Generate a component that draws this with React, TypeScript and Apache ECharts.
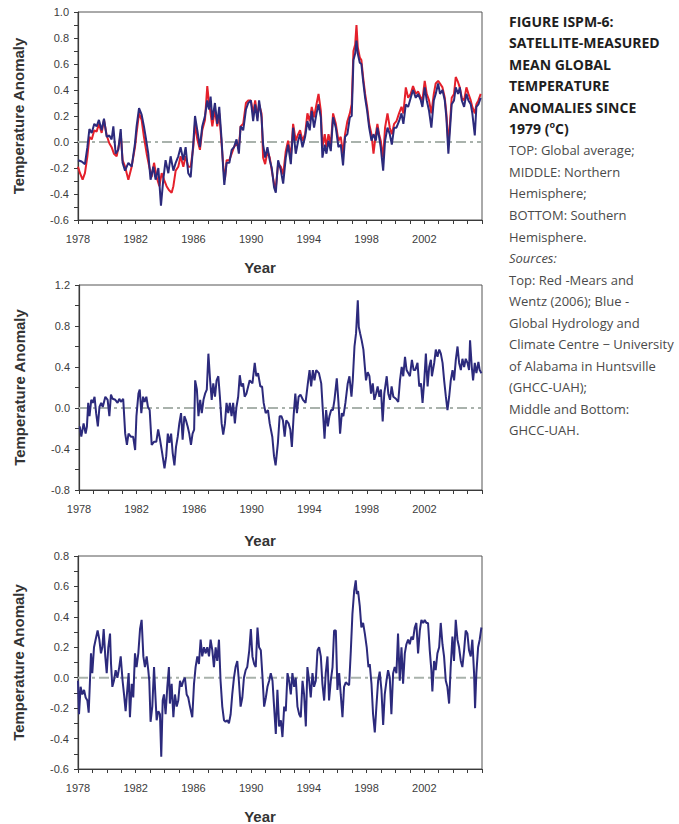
import React, { useEffect, useRef } from "react";
import * as echarts from "echarts";

// ---- Data (year, anomaly °C) ----
const topRss: [number, number][] = [
  [1978.0, -0.19], [1978.14, -0.24], [1978.32, -0.29], [1978.48, -0.24], [1978.65, -0.11], [1978.79, 0.04],
  [1978.95, 0.02], [1979.13, 0.09], [1979.29, 0.08], [1979.45, 0.14], [1979.64, 0.07], [1979.8, 0.17],
  [1979.99, 0.05], [1980.17, -0.01], [1980.33, -0.04], [1980.49, -0.09], [1980.68, -0.11], [1980.86, -0.01],
  [1980.96, 0.07], [1981.09, -0.14], [1981.26, -0.19], [1981.49, -0.29], [1981.72, -0.19], [1981.95, -0.04],
  [1982.06, 0.07], [1982.23, 0.22], [1982.41, 0.17], [1982.57, 0.04], [1982.76, -0.09], [1982.94, -0.19],
  [1983.1, -0.27], [1983.27, -0.16], [1983.45, -0.27], [1983.64, -0.34], [1983.8, -0.24], [1983.96, -0.29],
  [1984.14, -0.34], [1984.3, -0.37], [1984.49, -0.39], [1984.61, -0.34], [1984.77, -0.22], [1984.95, -0.19],
  [1985.11, -0.11], [1985.3, -0.19], [1985.46, -0.11], [1985.64, -0.19], [1985.81, -0.19], [1985.99, -0.04],
  [1986.11, 0.14], [1986.27, 0.02], [1986.45, -0.06], [1986.61, 0.09], [1986.8, 0.17], [1986.96, 0.43],
  [1987.08, 0.3], [1987.19, 0.22], [1987.31, 0.12], [1987.49, 0.25], [1987.65, 0.12], [1987.79, 0.22],
  [1987.95, -0.01], [1988.07, -0.19], [1988.18, -0.29], [1988.3, -0.14], [1988.49, -0.14], [1988.65, -0.09],
  [1988.81, -0.04], [1988.99, -0.01], [1989.15, -0.04], [1989.27, 0.12], [1989.45, 0.14], [1989.64, 0.3],
  [1989.8, 0.32], [1989.98, 0.32], [1990.14, 0.22], [1990.28, 0.32], [1990.44, 0.19], [1990.55, 0.29],
  [1990.72, 0.22], [1990.83, -0.12], [1990.97, -0.17], [1991.13, -0.07], [1991.29, -0.12], [1991.43, -0.22],
  [1991.59, -0.32], [1991.71, -0.35], [1991.87, -0.17], [1992.06, -0.19], [1992.22, -0.25], [1992.4, -0.07],
  [1992.56, 0.01], [1992.75, -0.12], [1992.91, 0.14], [1993.09, 0.01], [1993.26, 0.06], [1993.39, 0.09],
  [1993.56, 0.01], [1993.74, 0.06], [1993.9, 0.22], [1994.06, 0.16], [1994.2, 0.27], [1994.36, 0.19],
  [1994.53, 0.29], [1994.67, 0.37], [1994.83, 0.24], [1994.94, -0.04], [1995.1, 0.06], [1995.22, -0.04],
  [1995.36, 0.06], [1995.52, -0.02], [1995.68, 0.22], [1995.87, 0.14], [1996.05, 0.01], [1996.21, 0.04],
  [1996.37, -0.09], [1996.51, 0.06], [1996.67, 0.16], [1996.84, 0.22], [1996.97, 0.29], [1997.09, 0.7],
  [1997.21, 0.75], [1997.3, 0.9], [1997.39, 0.73], [1997.53, 0.65], [1997.64, 0.63], [1997.76, 0.5],
  [1997.9, 0.37], [1998.04, 0.27], [1998.18, 0.14], [1998.34, 0.06], [1998.48, -0.09], [1998.64, 0.06],
  [1998.75, 0.14], [1998.87, 0.06], [1998.98, 0.01], [1999.15, -0.12], [1999.28, 0.11], [1999.45, 0.22],
  [1999.61, 0.11], [1999.75, 0.06], [1999.91, 0.14], [2000.07, 0.16], [2000.25, 0.22], [2000.42, 0.27],
  [2000.55, 0.22], [2000.72, 0.42], [2000.88, 0.34], [2001.06, 0.37], [2001.22, 0.43], [2001.41, 0.37],
  [2001.57, 0.39], [2001.76, 0.34], [2001.87, 0.32], [2002.03, 0.47], [2002.17, 0.37], [2002.33, 0.32],
  [2002.49, 0.22], [2002.66, 0.37], [2002.79, 0.45], [2002.96, 0.47], [2003.09, 0.45], [2003.26, 0.42],
  [2003.42, 0.34], [2003.53, 0.22], [2003.67, -0.02], [2003.79, 0.16], [2003.9, 0.34], [2004.06, 0.37],
  [2004.18, 0.5], [2004.34, 0.46], [2004.46, 0.42], [2004.6, 0.34], [2004.76, 0.32], [2004.92, 0.42],
  [2005.06, 0.37], [2005.22, 0.32], [2005.33, 0.27], [2005.5, 0.22], [2005.61, 0.29], [2005.75, 0.32],
  [2005.91, 0.37],
];

const topUah: [number, number][] = [
  [1978.0, -0.14], [1978.25, -0.15], [1978.48, -0.17], [1978.65, -0.04], [1978.79, 0.1], [1978.95, 0.07],
  [1979.13, 0.14], [1979.29, 0.12], [1979.45, 0.17], [1979.64, 0.09], [1979.8, 0.18], [1979.99, 0.04],
  [1980.17, 0.05], [1980.33, 0.02], [1980.45, 0.12], [1980.61, -0.09], [1980.79, -0.06], [1980.96, 0.1],
  [1981.09, -0.16], [1981.26, -0.22], [1981.49, -0.16], [1981.72, -0.19], [1981.95, -0.01], [1982.06, 0.12],
  [1982.23, 0.26], [1982.41, 0.21], [1982.57, 0.12], [1982.69, 0.04], [1982.87, -0.09], [1983.03, -0.29],
  [1983.22, -0.19], [1983.38, -0.29], [1983.57, -0.2], [1983.75, -0.49], [1983.91, -0.29], [1984.07, -0.14],
  [1984.26, -0.24], [1984.42, -0.11], [1984.61, -0.22], [1984.77, -0.16], [1984.95, -0.11], [1985.11, -0.04],
  [1985.3, -0.14], [1985.46, -0.04], [1985.64, -0.24], [1985.81, -0.27], [1985.99, -0.01], [1986.11, 0.2],
  [1986.27, 0.09], [1986.45, -0.04], [1986.61, 0.12], [1986.8, 0.2], [1986.96, 0.32], [1987.08, 0.25],
  [1987.19, 0.35], [1987.31, 0.17], [1987.49, 0.3], [1987.65, 0.14], [1987.79, 0.27], [1987.95, 0.02],
  [1988.07, -0.22], [1988.14, -0.33], [1988.3, -0.16], [1988.49, -0.16], [1988.65, -0.06], [1988.81, -0.04],
  [1988.99, 0.02], [1989.15, -0.09], [1989.27, 0.12], [1989.45, 0.09], [1989.64, 0.25], [1989.8, 0.3],
  [1989.98, 0.32], [1990.14, 0.16], [1990.28, 0.29], [1990.44, 0.16], [1990.55, 0.32], [1990.72, 0.19],
  [1990.83, -0.02], [1990.97, -0.12], [1991.13, -0.04], [1991.29, -0.14], [1991.43, -0.2], [1991.59, -0.35],
  [1991.71, -0.39], [1991.87, -0.14], [1992.06, -0.22], [1992.22, -0.32], [1992.4, -0.12], [1992.56, -0.02],
  [1992.75, -0.17], [1992.91, 0.11], [1993.09, -0.09], [1993.26, 0.01], [1993.39, 0.06], [1993.56, -0.04],
  [1993.74, 0.04], [1993.9, 0.16], [1994.06, 0.09], [1994.2, 0.24], [1994.36, 0.11], [1994.53, 0.22],
  [1994.67, 0.29], [1994.83, 0.19], [1994.94, -0.12], [1995.1, -0.02], [1995.22, -0.09], [1995.36, 0.01],
  [1995.52, -0.07], [1995.68, 0.19], [1995.87, 0.11], [1996.05, -0.04], [1996.21, -0.02], [1996.37, -0.18],
  [1996.51, 0.04], [1996.67, 0.06], [1996.84, 0.19], [1996.97, 0.2], [1997.09, 0.63], [1997.21, 0.68],
  [1997.3, 0.78], [1997.39, 0.68], [1997.53, 0.61], [1997.64, 0.6], [1997.76, 0.47], [1997.9, 0.34],
  [1998.04, 0.24], [1998.18, 0.11], [1998.34, 0.01], [1998.48, 0.06], [1998.64, 0.01], [1998.75, 0.11],
  [1998.87, 0.04], [1998.98, -0.04], [1999.15, -0.22], [1999.28, 0.01], [1999.45, 0.11], [1999.61, 0.06],
  [1999.75, -0.02], [1999.91, 0.11], [2000.07, 0.11], [2000.25, 0.16], [2000.42, 0.22], [2000.55, 0.14],
  [2000.72, 0.29], [2000.88, 0.27], [2001.06, 0.34], [2001.22, 0.4], [2001.41, 0.34], [2001.57, 0.37],
  [2001.76, 0.32], [2001.87, 0.27], [2002.03, 0.42], [2002.17, 0.32], [2002.33, 0.24], [2002.49, 0.11],
  [2002.66, 0.32], [2002.79, 0.37], [2002.96, 0.45], [2003.09, 0.37], [2003.26, 0.4], [2003.42, 0.32],
  [2003.53, 0.19], [2003.67, -0.09], [2003.79, 0.11], [2003.9, 0.29], [2004.06, 0.32], [2004.18, 0.42],
  [2004.34, 0.37], [2004.46, 0.42], [2004.6, 0.32], [2004.76, 0.27], [2004.92, 0.37], [2005.06, 0.32],
  [2005.22, 0.29], [2005.33, 0.22], [2005.5, 0.05], [2005.61, 0.27], [2005.75, 0.29], [2005.91, 0.34],
];

const nhUah: [number, number][] = [
  [1978.05, -0.18], [1978.16, -0.28], [1978.32, -0.15], [1978.46, -0.25], [1978.55, -0.18], [1978.64, 0.05],
  [1978.73, -0.08], [1978.85, 0.08], [1978.96, 0.05], [1979.08, 0.11], [1979.19, -0.05], [1979.31, -0.18],
  [1979.42, 0.01], [1979.54, 0.05], [1979.65, 0.01], [1979.83, 0.11], [1979.99, 0.08], [1980.11, -0.08],
  [1980.22, 0.13], [1980.34, 0.09], [1980.52, 0.08], [1980.68, 0.05], [1980.8, 0.09], [1980.91, 0.06],
  [1981.07, 0.09], [1981.21, -0.25], [1981.33, -0.36], [1981.44, -0.25], [1981.6, -0.28], [1981.76, -0.28],
  [1981.9, -0.41], [1981.99, -0.08], [1982.13, 0.14], [1982.22, 0.18], [1982.33, -0.05], [1982.45, 0.11],
  [1982.56, 0.06], [1982.68, 0.11], [1982.79, 0.01], [1982.91, -0.02], [1983.05, -0.36], [1983.21, -0.33],
  [1983.37, -0.33], [1983.5, -0.21], [1983.62, -0.3], [1983.78, -0.44], [1983.94, -0.59], [1984.06, -0.47],
  [1984.17, -0.25], [1984.28, -0.34], [1984.4, -0.25], [1984.51, -0.44], [1984.63, -0.56], [1984.74, -0.38],
  [1984.86, -0.28], [1984.97, -0.15], [1985.09, -0.05], [1985.2, -0.31], [1985.32, -0.08], [1985.43, -0.12],
  [1985.55, -0.18], [1985.66, -0.25], [1985.78, -0.36], [1985.89, -0.25], [1986.0, -0.21], [1986.07, 0.27],
  [1986.19, 0.18], [1986.3, -0.08], [1986.42, 0.08], [1986.53, -0.05], [1986.65, 0.08], [1986.76, 0.14],
  [1986.88, 0.18], [1986.99, 0.53], [1987.11, 0.27], [1987.22, 0.08], [1987.33, 0.24], [1987.45, 0.11],
  [1987.56, 0.27], [1987.68, 0.31], [1987.79, 0.11], [1987.91, -0.15], [1988.02, -0.26], [1988.14, -0.15],
  [1988.25, 0.05], [1988.37, -0.05], [1988.48, 0.05], [1988.6, -0.08], [1988.71, 0.05], [1988.83, -0.15],
  [1988.94, 0.01], [1989.06, 0.11], [1989.17, 0.32], [1989.28, 0.21], [1989.4, 0.24], [1989.51, 0.11],
  [1989.63, 0.14], [1989.86, 0.27], [1990.05, 0.24], [1990.21, 0.44], [1990.32, 0.31], [1990.44, 0.34],
  [1990.6, 0.21], [1990.72, 0.21], [1990.83, 0.05], [1990.97, -0.05], [1991.13, -0.02], [1991.25, -0.15],
  [1991.43, -0.28], [1991.55, -0.47], [1991.66, -0.56], [1991.82, -0.34], [1991.94, -0.08], [1992.06, -0.08],
  [1992.17, -0.12], [1992.29, -0.28], [1992.4, -0.12], [1992.56, -0.15], [1992.68, -0.21], [1992.79, -0.38],
  [1992.91, -0.08], [1993.03, 0.14], [1993.14, -0.05], [1993.26, 0.11], [1993.39, 0.13], [1993.56, 0.08],
  [1993.74, 0.05], [1993.9, 0.24], [1994.02, 0.37], [1994.13, 0.21], [1994.25, 0.37], [1994.36, 0.27],
  [1994.48, 0.37], [1994.67, 0.34], [1994.83, 0.24], [1994.94, -0.02], [1995.06, -0.3], [1995.17, -0.02],
  [1995.29, -0.18], [1995.4, -0.08], [1995.52, -0.02], [1995.64, -0.02], [1995.75, 0.08], [1995.91, 0.29],
  [1996.03, 0.05], [1996.14, -0.25], [1996.26, -0.05], [1996.37, -0.08], [1996.51, 0.05], [1996.67, 0.24],
  [1996.79, 0.31], [1996.93, 0.11], [1997.02, 0.27], [1997.14, 0.6], [1997.25, 0.73], [1997.37, 1.05],
  [1997.44, 0.79], [1997.53, 0.73], [1997.64, 0.66], [1997.76, 0.57], [1997.88, 0.37], [1997.94, 0.27],
  [1998.06, 0.35], [1998.18, 0.31], [1998.29, 0.14], [1998.41, 0.24], [1998.52, 0.08], [1998.64, 0.14],
  [1998.75, 0.21], [1998.87, 0.11], [1998.98, 0.18], [1999.1, -0.13], [1999.21, 0.14], [1999.38, 0.31],
  [1999.49, 0.14], [1999.61, 0.08], [1999.72, 0.21], [1999.84, 0.11], [2000.02, 0.09], [2000.18, 0.06],
  [2000.3, 0.27], [2000.42, 0.4], [2000.53, 0.31], [2000.65, 0.5], [2000.76, 0.37], [2000.88, 0.34],
  [2000.99, 0.31], [2001.13, 0.47], [2001.25, 0.37], [2001.36, 0.37], [2001.52, 0.44], [2001.64, 0.21],
  [2001.76, 0.24], [2001.87, 0.05], [2001.99, 0.27], [2002.1, 0.53], [2002.22, 0.21], [2002.33, 0.4],
  [2002.45, 0.47], [2002.52, 0.31], [2002.68, 0.44], [2002.79, 0.57], [2002.91, 0.5], [2003.03, 0.57],
  [2003.14, 0.53], [2003.26, 0.44], [2003.37, 0.27], [2003.49, 0.11], [2003.6, -0.02], [2003.72, 0.11],
  [2003.83, 0.27], [2003.95, 0.37], [2004.06, 0.27], [2004.18, 0.47], [2004.3, 0.6], [2004.41, 0.44],
  [2004.53, 0.37], [2004.64, 0.48], [2004.76, 0.4], [2004.87, 0.48], [2004.99, 0.44], [2005.1, 0.37],
  [2005.17, 0.66], [2005.29, 0.4], [2005.38, 0.27], [2005.5, 0.44], [2005.61, 0.34], [2005.75, 0.45],
  [2005.84, 0.37], [2005.96, 0.34],
];

const shUah: [number, number][] = [
  [1978.0, -0.02], [1978.07, -0.24], [1978.18, -0.06], [1978.3, -0.11], [1978.42, -0.08], [1978.53, -0.13],
  [1978.65, -0.15], [1978.74, -0.23], [1978.83, -0.02], [1978.9, 0.16], [1978.99, 0.03], [1979.11, 0.2],
  [1979.22, 0.25], [1979.36, 0.31], [1979.48, 0.25], [1979.59, 0.16], [1979.69, 0.2], [1979.78, 0.32],
  [1979.89, 0.14], [1979.99, 0.03], [1980.1, 0.2], [1980.22, 0.29], [1980.29, 0.09], [1980.38, -0.06],
  [1980.49, -0.02], [1980.61, 0.05], [1980.73, 0.0], [1980.86, 0.07], [1980.96, 0.14], [1981.09, -0.02],
  [1981.19, -0.11], [1981.3, -0.22], [1981.39, -0.11], [1981.51, 0.03], [1981.6, -0.26], [1981.72, -0.04],
  [1981.83, -0.13], [1981.95, 0.16], [1982.06, 0.07], [1982.18, 0.16], [1982.3, 0.32], [1982.41, 0.38],
  [1982.53, 0.14], [1982.64, 0.07], [1982.76, 0.14], [1982.87, 0.05], [1982.94, -0.02], [1983.03, -0.29],
  [1983.15, -0.19], [1983.27, 0.07], [1983.36, -0.11], [1983.45, -0.28], [1983.57, -0.22], [1983.68, -0.24],
  [1983.77, -0.52], [1983.87, -0.15], [1983.96, -0.11], [1984.07, -0.24], [1984.19, -0.06], [1984.3, 0.07],
  [1984.37, -0.17], [1984.49, -0.04], [1984.61, -0.26], [1984.72, -0.11], [1984.84, -0.19], [1984.95, -0.15],
  [1985.07, -0.02], [1985.18, -0.06], [1985.3, -0.02], [1985.41, 0.0], [1985.53, -0.11], [1985.64, -0.13],
  [1985.76, -0.19], [1985.92, -0.26], [1986.04, -0.04], [1986.15, 0.07], [1986.27, 0.14], [1986.38, 0.09],
  [1986.5, 0.25], [1986.61, 0.14], [1986.73, 0.2], [1986.85, 0.16], [1986.96, 0.2], [1987.08, 0.14],
  [1987.19, 0.25], [1987.31, 0.18], [1987.42, 0.07], [1987.54, 0.2], [1987.65, 0.11], [1987.77, 0.25],
  [1987.88, -0.02], [1988.0, -0.19], [1988.12, -0.28], [1988.23, -0.29], [1988.35, -0.28], [1988.46, -0.3],
  [1988.58, -0.24], [1988.69, -0.11], [1988.81, 0.0], [1988.92, 0.07], [1989.04, 0.11], [1989.15, -0.02],
  [1989.27, -0.19], [1989.39, -0.13], [1989.5, 0.0], [1989.62, 0.05], [1989.73, 0.07], [1989.87, 0.18],
  [1989.98, 0.32], [1990.09, 0.14], [1990.21, 0.09], [1990.32, 0.07], [1990.44, 0.33], [1990.55, 0.2],
  [1990.67, 0.18], [1990.79, 0.0], [1990.9, -0.19], [1991.02, -0.13], [1991.13, -0.06], [1991.25, -0.02],
  [1991.36, 0.03], [1991.48, -0.02], [1991.59, -0.19], [1991.71, -0.37], [1991.82, -0.08], [1991.94, -0.32],
  [1992.06, -0.28], [1992.17, -0.39], [1992.29, -0.19], [1992.4, -0.22], [1992.52, 0.03], [1992.63, -0.02],
  [1992.75, -0.11], [1992.86, 0.03], [1992.98, -0.06], [1993.09, 0.0], [1993.21, -0.19], [1993.33, -0.24],
  [1993.44, -0.26], [1993.56, -0.02], [1993.67, -0.11], [1993.79, -0.32], [1993.9, 0.07], [1994.02, -0.02],
  [1994.13, -0.13], [1994.25, 0.03], [1994.36, -0.06], [1994.48, -0.02], [1994.6, 0.18], [1994.71, 0.2],
  [1994.83, 0.14], [1994.94, -0.04], [1995.06, -0.15], [1995.17, 0.03], [1995.29, 0.14], [1995.4, -0.15],
  [1995.52, -0.02], [1995.64, 0.07], [1995.75, 0.31], [1995.87, 0.31], [1995.98, -0.08], [1996.1, 0.03],
  [1996.21, -0.11], [1996.33, -0.26], [1996.44, -0.06], [1996.56, -0.03], [1996.67, -0.04], [1996.79, -0.05],
  [1996.91, 0.18], [1997.02, 0.42], [1997.14, 0.57], [1997.25, 0.64], [1997.32, 0.55], [1997.41, 0.57],
  [1997.53, 0.47], [1997.64, 0.33], [1997.76, 0.36], [1997.88, 0.29], [1998.01, 0.2], [1998.13, 0.07],
  [1998.22, 0.09], [1998.34, -0.04], [1998.45, -0.24], [1998.57, -0.36], [1998.68, -0.19], [1998.8, -0.02],
  [1998.91, 0.04], [1999.03, -0.08], [1999.15, -0.31], [1999.26, -0.11], [1999.38, -0.02], [1999.49, 0.05],
  [1999.61, 0.0], [1999.72, -0.24], [1999.84, 0.03], [1999.95, 0.07], [2000.07, 0.03], [2000.18, 0.29],
  [2000.3, -0.02], [2000.42, 0.2], [2000.53, -0.04], [2000.65, 0.16], [2000.76, 0.22], [2000.88, 0.25],
  [2000.99, 0.22], [2001.11, 0.27], [2001.22, 0.25], [2001.34, 0.33], [2001.45, 0.36], [2001.57, 0.16],
  [2001.69, 0.31], [2001.8, 0.38], [2001.92, 0.36], [2002.03, 0.38], [2002.15, 0.36], [2002.26, 0.36],
  [2002.38, 0.18], [2002.49, 0.05], [2002.56, -0.09], [2002.68, 0.11], [2002.79, 0.05], [2002.91, 0.16],
  [2003.03, 0.2], [2003.14, 0.36], [2003.26, 0.22], [2003.37, 0.14], [2003.49, -0.02], [2003.6, -0.06],
  [2003.72, -0.17], [2003.83, 0.07], [2003.95, 0.27], [2004.06, 0.11], [2004.18, 0.38], [2004.3, 0.25],
  [2004.41, 0.2], [2004.53, 0.11], [2004.64, 0.07], [2004.76, 0.18], [2004.87, 0.31], [2004.99, 0.29],
  [2005.1, 0.18], [2005.22, 0.14], [2005.33, 0.25], [2005.45, 0.03], [2005.52, -0.2], [2005.61, 0.03],
  [2005.73, 0.2], [2005.84, 0.25], [2005.96, 0.33],
];

// ---- Axes ----
const xMin = 1978;
const xMax = 2006;
const xLabelStep = 4;
const topRange = [-0.6, 1.0, 0.2];
const midRange = [-0.8, 1.2, 0.4];
const botRange = [-0.6, 0.8, 0.2];
const zeroLevel = 0;

const yName = "Temperature Anomaly";
const xName = "Year";

// ---- Caption ----
const captionBold = [
  "FIGURE ISPM-6:",
  "SATELLITE-MEASURED",
  "MEAN GLOBAL",
  "TEMPERATURE",
  "ANOMALIES SINCE",
];
const captionBody = [
  "TOP: Global average;",
  "MIDDLE: Northern",
  "Hemisphere;",
  "BOTTOM: Southern",
  "Hemisphere.",
  "Sources:",
  "Top: Red -Mears and",
  "Wentz (2006); Blue -",
  "Global Hydrology and",
  "Climate Centre \u2212 University",
  "of Alabama in Huntsville",
  "(GHCC-UAH);",
  "Middle and Bottom:",
  "GHCC-UAH.",
];

const RED = "#e5202b";
const BLUE = "#2c2a7c";
const AXIS = "#3a3a3a";
const LABEL = "#3c3c3c";
const ZERO = "#a9b2ac";
const FONT = "Liberation Sans, Arial, sans-serif";
const CAP_FONT = "Open Sans, sans-serif";

const grids = [
  { left: 78, top: 12, width: 404, height: 208 },
  { left: 79, top: 285, width: 403, height: 205 },
  { left: 78, top: 556, width: 404, height: 213 },
];

function xAxis(gridIndex: number) {
  return {
    type: "value",
    gridIndex,
    min: xMin,
    max: xMax,
    interval: xLabelStep,
    position: "bottom",
    axisLine: { show: true, onZero: false, lineStyle: { color: AXIS, width: 1.2 } },
    axisTick: { show: true, length: 4, lineStyle: { color: AXIS, width: 1 } },
    minorTick: { show: true, splitNumber: 4, length: 4, lineStyle: { color: AXIS, width: 1 } },
    splitLine: { show: false },
    minorSplitLine: { show: false },
    axisLabel: {
      margin: 13,
      color: LABEL,
      fontFamily: FONT,
      fontSize: 11,
      showMaxLabel: false,
      formatter: (v: number) => (v >= xMax ? "" : String(Math.round(v))),
    },
  };
}

function yAxis(gridIndex: number, r: number[]) {
  return {
    type: "value",
    gridIndex,
    min: r[0],
    max: r[1],
    interval: r[2],
    name: yName,
    nameLocation: "middle",
    nameGap: 52,
    nameTextStyle: { color: "#333", fontFamily: FONT, fontSize: 15, fontWeight: "bold" },
    axisLine: { show: true, onZero: false, lineStyle: { color: AXIS, width: 1.2 } },
    axisTick: { show: true, length: 4, lineStyle: { color: AXIS, width: 1 } },
    minorTick: { show: true, splitNumber: 2, length: 4, lineStyle: { color: AXIS, width: 1 } },
    splitLine: { show: false },
    minorSplitLine: { show: false },
    axisLabel: {
      margin: 9,
      color: LABEL,
      fontFamily: FONT,
      fontSize: 11,
      formatter: (v: number) => v.toFixed(1),
    },
  };
}

function zeroSeries(axisIndex: number) {
  return {
    type: "line",
    xAxisIndex: axisIndex,
    yAxisIndex: axisIndex,
    data: [
      [xMin, zeroLevel],
      [xMax, zeroLevel],
    ],
    showSymbol: false,
    symbol: "none",
    silent: true,
    z: 1,
    lineStyle: { color: ZERO, width: 2, type: [10, 4, 3, 4] },
  };
}

function lineSeries(data: [number, number][], color: string, axisIndex: number) {
  return {
    type: "line",
    xAxisIndex: axisIndex,
    yAxisIndex: axisIndex,
    data,
    showSymbol: false,
    symbol: "none",
    lineStyle: { color, width: 2 },
    itemStyle: { color },
    z: 2,
  };
}

export default function App() {
  const ref = useRef<HTMLDivElement>(null);
  useEffect(() => {
    if (!ref.current) return;
    const chart = echarts.init(ref.current, undefined, { renderer: "svg" });

    const captionLineY = (i: number) => 21 + i * 21.55;
    const graphics: any[] = [];
    captionBold.forEach((t, i) => {
      graphics.push({
        type: "text",
        x: 509,
        y: captionLineY(i),
        style: {
          text: t,
          fill: "#1e1e1e",
          fontFamily: CAP_FONT,
          fontSize: 14,
          fontWeight: "bold",
          align: "left",
          verticalAlign: "middle",
          textAlign: "left",
          textVerticalAlign: "middle",
        },
      });
    });
    graphics.push({
      type: "text",
      x: 509,
      y: captionLineY(captionBold.length),
      style: {
        text: "{b|1979 (}{s|o}{b|C)}",
        align: "left",
        verticalAlign: "middle",
        textAlign: "left",
        textVerticalAlign: "middle",
        rich: {
          b: { fill: "#1e1e1e", fontFamily: CAP_FONT, fontSize: 14, fontWeight: "bold", lineHeight: 18 },
          s: { fill: "#1e1e1e", fontFamily: CAP_FONT, fontSize: 9, fontWeight: "bold", lineHeight: 18, padding: [0, 0, 8, 0] },
        },
      },
    });
    captionBody.forEach((t, i) => {
      graphics.push({
        type: "text",
        x: 509,
        y: captionLineY(captionBold.length + 1 + i),
        style: {
          text: t,
          fill: "#4a4a4a",
          fontFamily: CAP_FONT,
          fontSize: 13,
          fontStyle: t === "Sources:" ? "italic" : "normal",
          align: "left",
          verticalAlign: "middle",
          textAlign: "left",
          textVerticalAlign: "middle",
        },
      });
    });
    [267, 540, 816].forEach((y) => {
      graphics.push({
        type: "text",
        x: 260,
        y,
        style: {
          text: xName,
          fill: "#333",
          fontFamily: FONT,
          fontSize: 15,
          fontWeight: "bold",
          align: "center",
          verticalAlign: "middle",
          textAlign: "center",
          textVerticalAlign: "middle",
        },
      });
    });

    chart.setOption({
      animation: false,
      backgroundColor: "#ffffff",
      grid: grids.map((g) => ({
        ...g,
        show: true,
        borderColor: "#555",
        borderWidth: 1,
        backgroundColor: "transparent",
        containLabel: false,
        outerBoundsMode: "none",
      })),
      xAxis: [xAxis(0), xAxis(1), xAxis(2)],
      yAxis: [yAxis(0, topRange), yAxis(1, midRange), yAxis(2, botRange)],
      series: [
        zeroSeries(0),
        zeroSeries(1),
        zeroSeries(2),
        lineSeries(topRss, RED, 0),
        lineSeries(topUah, BLUE, 0),
        lineSeries(nhUah, BLUE, 1),
        lineSeries(shUah, BLUE, 2),
      ],
      graphic: graphics,
    });
    return () => chart.dispose();
  }, []);

  return (
    <div
      ref={ref}
      style={{ position: "absolute", left: 0, top: 0, width: 679, height: 824, background: "#fff" }}
    />
  );
}
